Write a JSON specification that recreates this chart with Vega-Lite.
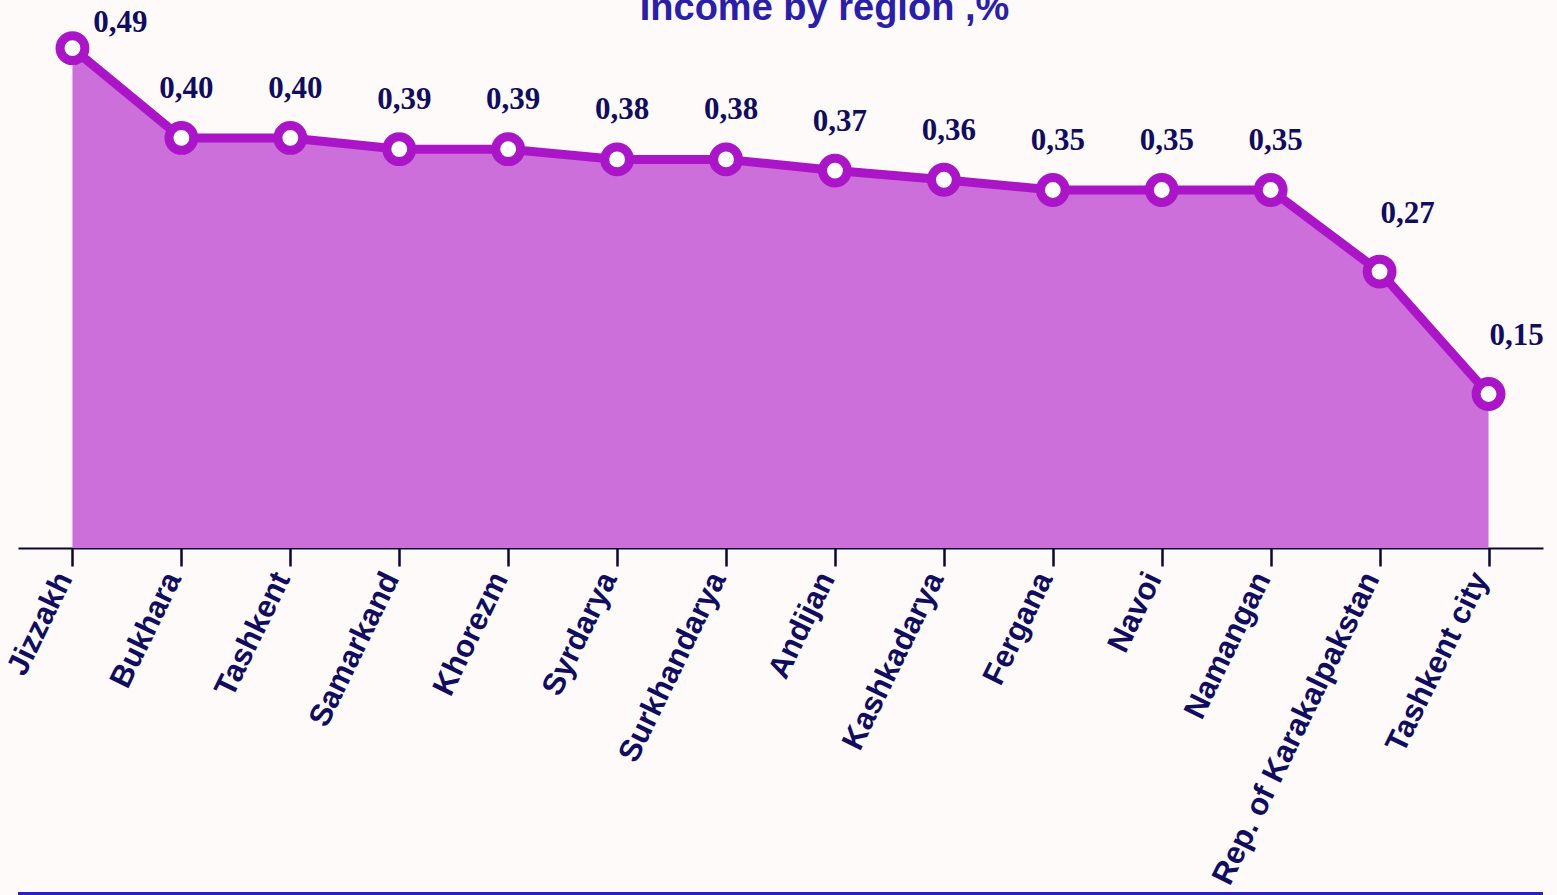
{
  "$schema": "https://vega.github.io/schema/vega-lite/v6.json",
  "autosize": {"type": "none"},
  "padding": {"left": 18, "top": 38, "right": 14, "bottom": 347},
  "width": 1525,
  "height": 510,
  "background": "#fffafa",
  "title": {
    "text": "Income by region ,%",
    "font": "Liberation Sans",
    "fontSize": 38,
    "fontWeight": "bold",
    "color": "#2a20a8",
    "baseline": "alphabetic",
    "frame": "group",
    "offset": 0,
    "dy": 51,
    "dx": 44
  },
  "data": {
    "values": [
      {"region": "Jizzakh", "value": 0.49, "label": "0,49"},
      {"region": "Bukhara", "value": 0.402, "label": "0,40"},
      {"region": "Tashkent", "value": 0.402, "label": "0,40"},
      {"region": "Samarkand", "value": 0.391, "label": "0,39"},
      {"region": "Khorezm", "value": 0.391, "label": "0,39"},
      {"region": "Syrdarya", "value": 0.381, "label": "0,38"},
      {"region": "Surkhandarya", "value": 0.381, "label": "0,38"},
      {"region": "Andijan", "value": 0.37, "label": "0,37"},
      {"region": "Kashkadarya", "value": 0.361, "label": "0,36"},
      {"region": "Fergana", "value": 0.351, "label": "0,35"},
      {"region": "Navoi", "value": 0.351, "label": "0,35"},
      {"region": "Namangan", "value": 0.351, "label": "0,35"},
      {"region": "Rep. of Karakalpakstan", "value": 0.271, "label": "0,27"},
      {"region": "Tashkent city", "value": 0.151, "label": "0,15"}
    ]
  },
  "encoding": {
    "x": {
      "field": "region",
      "type": "nominal",
      "sort": null,
      "scale": {"type": "point", "padding": 0.5},
      "axis": {
        "title": null,
        "labelAngle": -64,
        "labelAlign": "right",
        "labelBaseline": "alphabetic",
        "labelFont": "Liberation Sans",
        "labelFontSize": 31,
        "labelFontWeight": "bold",
        "labelColor": "#100c5e",
        "labelPadding": 12,
        "domainColor": "#0a0830",
        "domainWidth": 2,
        "tickColor": "#0a0830",
        "tickWidth": 2.5,
        "tickSize": 18,
        "labelOverlap": false,
        "labelLimit": 0
      }
    },
    "y": {
      "field": "value",
      "type": "quantitative",
      "scale": {"domain": [0, 0.5], "nice": false, "zero": true},
      "axis": null
    }
  },
  "layer": [
    {"mark": {"type": "area", "color": "#cd6fdb", "opacity": 1}},
    {"mark": {"type": "line", "color": "#aa16c7", "strokeWidth": 9}},
    {"mark": {"type": "point", "shape": "circle", "filled": true, "fill": "#ffffff", "stroke": "#aa16c7", "strokeWidth": 9, "size": 616, "opacity": 1}},
    {
      "transform": [{"filter": "datum.region != 'Jizzakh' && datum.region != 'Rep. of Karakalpakstan' && datum.region != 'Tashkent city'"}],
      "mark": {"type": "text", "font": "Liberation Serif", "fontSize": 31, "fontWeight": "bold", "color": "#100c5e", "dx": 5, "dy": -49},
      "encoding": {"text": {"field": "label"}}
    },
    {
      "transform": [{"filter": "datum.region == 'Jizzakh'"}],
      "mark": {"type": "text", "font": "Liberation Serif", "fontSize": 31, "fontWeight": "bold", "color": "#100c5e", "dx": 48, "dy": -25},
      "encoding": {"text": {"field": "label"}}
    },
    {
      "transform": [{"filter": "datum.region == 'Rep. of Karakalpakstan' || datum.region == 'Tashkent city'"}],
      "mark": {"type": "text", "font": "Liberation Serif", "fontSize": 31, "fontWeight": "bold", "color": "#100c5e", "dx": 28, "dy": -58},
      "encoding": {"text": {"field": "label"}}
    },
    {
      "mark": {"type": "rule", "color": "#2a20c0", "strokeWidth": 2, "clip": false},
      "encoding": {"y": {"datum": -0.3385}, "x": null}
    }
  ],
  "config": {"view": {"stroke": null}}
}
